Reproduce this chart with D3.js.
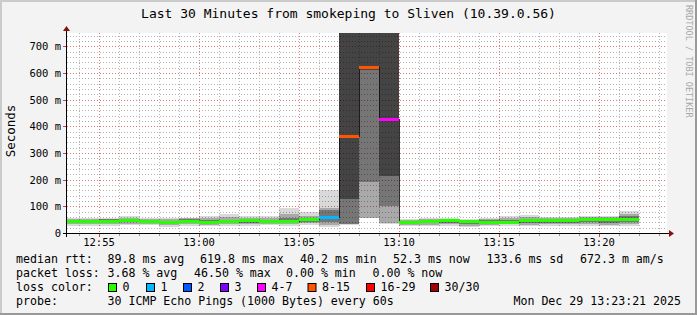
<!DOCTYPE html>
<html><head><meta charset="utf-8">
<script src="https://cdn.jsdelivr.net/npm/d3@7"></script>
<style>html,body{margin:0;padding:0;background:#f3f3f3;} svg{display:block}</style>
</head><body><svg id="c" width="697" height="315"></svg>
<script>
// ---- data (milliseconds) ----
const stepEnd = ["12:54","12:55","12:56","12:57","12:58","12:59","13:00","13:01","13:02","13:03",
  "13:04","13:05","13:06","13:07","13:08","13:09","13:10","13:11","13:12","13:13",
  "13:14","13:15","13:16","13:17","13:18","13:19","13:20","13:21","13:22"];
const median = [41.5,43.5,44,45,43.5,40.2,43,41,44,45, 44,43,49,56.6,362,619.8,425,40.5,42,46, 42,41,41,45,46,47,49.5,50,52.3];
const lossCount = [0,0,0,0,0,0,0,0,0,0, 0,0,0,1,12,14,5,0,0,0, 0,0,0,0,0,0,0,0,0];
const pingMin = [27,25,28,29,30,24,28,26,28,28, 30,27,30,24,31,55,35,25,25,28, 22,26,27,26,28,28,26,25,28];
const ping10  = [32,32,34,35,35,29,33,31,34,33, 34,32,36,30,33,58,38,30,31,33, 28,31,32,31,33,33,32,31,34];
const ping25  = [37,38,40,40,40,34,39,36,40,39, 39,37,42,42,35,190,102,35,36,39, 34,36,36,37,39,39,40,39,42];
const ping40  = [40,41,43,43,42,38,41,39,42,43, 42,41,46,52,129,610,215,38,39,43, 39,39,39,42,43,44,46,46,48];
const ping60  = [43,46,47,48,46,42,46,44,47,47, 46,47,52,62,750,750,750,43,45,48, 44,44,44,48,49,50,52,53,56];
const ping75  = [47,49,51,53,50,46,51,48,50,51, 50,55,57,88,750,750,750,46,49,51, 47,48,48,53,52,53,55,56,62];
const ping90  = [52,53,54,58,53,51,55,55,60,56, 55,72,65,92,750,750,750,50,53,54, 50,52,55,60,56,57,59,60,72];
const pingMax = [57,58,56,63,56,56,58,62,71,62, 62,94,80,160,750,750,750,53,57,58, 53,56,62,66,60,60,63,64,84];
const yTicks = [0,100,200,300,400,500,600,700];
const lossLabels = ["0","1","2","3","4-7","8-15","16-29","30/30"];
const lossFrom   = [0,1,2,3,4,8,16,30];
const lossColors = ["#26ff00","#00b8ff","#0059ff","#7e00ff","#ff00ff","#ff5500","#ff0000","#a10000"];
const rttStats = ["89.8 ms avg","619.8 ms max","40.2 ms min","52.3 ms now","133.6 ms sd","672.3 m am/s"];
const lossStats = ["3.68 % avg","46.50 % max","0.00 % min","0.00 % now"];

// ---- layout ----
const W = 697, H = 315;
const L = 67, R = 667, T = 33, B = 233;
const mono = "'DejaVu Sans Mono', monospace";
const svg = d3.select("#c");
const day = (h, m, s = 0) => new Date(2025, 11, 29, h, m, s);
const t0 = day(12, 53, 24), t1 = day(13, 23, 24);
const x = d3.scaleTime().domain([t0, t1]).range([L, R]);
const y = d3.scaleLinear().domain([0, 750]).range([B, T]);

// background + frame
svg.append("rect").attr("width", W).attr("height", H).attr("fill", "#f3f3f3");
svg.append("rect").attr("x", 0).attr("y", 0).attr("width", W).attr("height", 2).attr("fill", "#cbcbcb");
svg.append("rect").attr("x", 0).attr("y", 0).attr("width", 2).attr("height", H).attr("fill", "#cbcbcb");
svg.append("rect").attr("x", 0).attr("y", H - 2).attr("width", W).attr("height", 2).attr("fill", "#999");
svg.append("rect").attr("x", W - 2).attr("y", 0).attr("width", 2).attr("height", H).attr("fill", "#999");
svg.append("rect").attr("x", L).attr("y", T).attr("width", R - L).attr("height", B - T).attr("fill", "#fff");

// grid
const g = svg.append("g").attr("shape-rendering", "crispEdges");
const minutes = d3.timeMinute.every(1).range(t0, t1);
minutes.forEach(t => {
  const major = t.getMinutes() % 5 === 0;
  const xx = Math.round(x(t)) + 0.5;
  g.append("line").attr("x1", xx).attr("x2", xx).attr("y1", T).attr("y2", B)
    .attr("stroke", major ? "#e07878" : "#b4b4b4").attr("stroke-dasharray", "1,2");
});
d3.range(20, 750, 20).forEach(v => {
  const major = v % 100 === 0;
  const yy = Math.round(y(v)) + 0.5;
  g.append("line").attr("x1", L).attr("x2", R).attr("y1", yy).attr("y2", yy)
    .attr("stroke", major ? "#e07878" : "#b4b4b4").attr("stroke-dasharray", "1,2");
});

// bars
const bars = stepEnd.map((s, i) => {
  const [h, m] = s.split(":").map(Number);
  const end = day(h, m);
  const start = new Date(Math.max(+t0, +end - 60000));
  return {i, x0: Math.round(x(start)), x1: Math.round(x(end))};
});
svg.append("clipPath").attr("id", "pc").append("rect")
  .attr("x", L).attr("y", T).attr("width", R - L).attr("height", B - T);
const d = svg.append("g").attr("clip-path", "url(#pc)").attr("shape-rendering", "crispEdges");
const bands = [[pingMin, pingMax, 0.15], [ping10, ping90, 0.22], [ping25, ping75, 0.30], [ping40, ping60, 0.42]];
bands.forEach(([lo, hi, op]) => {
  d.selectAll(null).data(bars).join("rect")
    .attr("x", b => b.x0).attr("width", b => b.x1 - b.x0)
    .attr("y", b => Math.round(y(hi[b.i])))
    .attr("height", b => Math.round(y(lo[b.i])) - Math.round(y(hi[b.i])))
    .attr("fill", "#000").attr("fill-opacity", op);
});
// median step line
const pts = [];
bars.forEach(b => { pts.push([b.x0, y(median[b.i])]); pts.push([b.x1, y(median[b.i])]); });
d.append("path").attr("d", d3.line()(pts)).attr("fill", "none")
  .attr("stroke", "#111").attr("stroke-width", 1).attr("stroke-opacity", 0.85);
const lossColor = n => { let c = lossColors[0]; lossFrom.forEach((f, k) => { if (n >= f) c = lossColors[k]; }); return c; };
d.selectAll(null).data(bars).join("rect")
  .attr("x", b => b.x0).attr("width", b => b.x1 - b.x0)
  .attr("y", b => Math.round(y(median[b.i]) - 1.5)).attr("height", 3)
  .attr("fill", b => lossColor(lossCount[b.i]));

// axes
const a = svg.append("g").attr("shape-rendering", "crispEdges");
a.append("line").attr("x1", L - 4).attr("x2", R + 4).attr("y1", B + 0.5).attr("y2", B + 0.5).attr("stroke", "#000");
a.append("line").attr("x1", L - 0.5).attr("x2", L - 0.5).attr("y1", B + 4).attr("y2", T - 4).attr("stroke", "#000");
svg.append("path").attr("d", `M${R + 2},${B - 3}L${R + 7},${B + 0.5}L${R + 2},${B + 4}Z`).attr("fill", "#8b1010");
svg.append("path").attr("d", `M${L - 4},${T - 2}L${L - 0.5},${T - 7}L${L + 3},${T - 2}Z`).attr("fill", "#8b1010");
minutes.forEach(t => {
  const major = t.getMinutes() % 5 === 0;
  const xx = Math.round(x(t)) + 0.5;
  a.append("line").attr("x1", xx).attr("x2", xx).attr("y1", B + 1).attr("y2", B + (major ? 4 : 3))
    .attr("stroke", major ? "#d04040" : "#999");
});
yTicks.forEach(v => {
  const yy = Math.round(y(v)) + 0.5;
  a.append("line").attr("x1", L - 4).attr("x2", L - 1).attr("y1", yy).attr("y2", yy).attr("stroke", v ? "#d04040" : "#000");
  svg.append("text").attr("x", 61).attr("y", y(v) + 4).attr("text-anchor", "end")
    .attr("font-family", mono).attr("font-size", "10.5px").attr("fill", "#000")
    .text(v === 0 ? "0" : v + " m");
});
minutes.filter(t => t.getMinutes() % 5 === 0).forEach(t => {
  svg.append("text").attr("x", x(t)).attr("y", 245.5).attr("text-anchor", "middle")
    .attr("font-family", mono).attr("font-size", "10.5px").attr("fill", "#000")
    .text(d3.timeFormat("%H:%M")(t));
});

// titles
svg.append("text").attr("x", 348.5).attr("y", 18).attr("text-anchor", "middle")
  .attr("font-family", mono).attr("font-size", "13px").attr("fill", "#000")
  .text("Last 30 Minutes from smokeping to Sliven (10.39.0.56)");
svg.append("text").attr("transform", "translate(15,131) rotate(-90)").attr("text-anchor", "middle")
  .attr("font-family", mono).attr("font-size", "12.5px").attr("fill", "#000").text("Seconds");
svg.append("text").attr("transform", "translate(686,5) rotate(90)").attr("text-anchor", "start")
  .attr("font-family", mono).attr("font-size", "8.5px").attr("fill", "#a8a8a8").text("RRDTOOL / TOBI OETIKER");

// legend
const txt = (s, xx, yy, anchor = "start") => svg.append("text").attr("x", xx).attr("y", yy)
  .attr("text-anchor", anchor).attr("font-family", mono).attr("font-size", "11.6px").attr("fill", "#000")
  .attr("xml:space", "preserve").text(s);
txt("median rtt:", 16, 263);
[107.5, 200, 300, 393, 486.5, 580].forEach((xx, k) => txt(rttStats[k], xx, 263));
txt("packet loss:", 16, 277);
[107.5, 194, 286, 372.5].forEach((xx, k) => txt(lossStats[k], xx, 277));
txt("loss color:", 16, 291);
const swX = [108, 146, 183, 220, 257, 307.5, 366, 430];
lossLabels.forEach((lab, k) => {
  svg.append("rect").attr("x", swX[k] + 0.5).attr("y", 283.5).attr("width", 8).attr("height", 8)
    .attr("fill", lossColors[k]).attr("stroke", "#000").attr("stroke-width", 1);
  txt(lab, swX[k] + 14.5, 291);
});
txt("probe:", 16, 305);
txt("30 ICMP Echo Pings (1000 Bytes) every 60s", 107.5, 305);
txt("Mon Dec 29 13:23:21 2025", 681, 305, "end");
</script></body></html>
